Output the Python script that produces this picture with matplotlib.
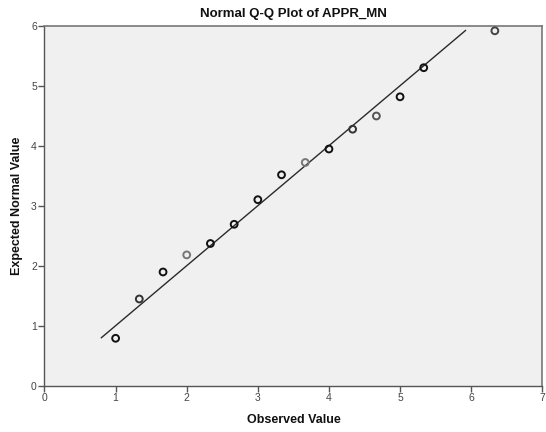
import matplotlib
matplotlib.use("Agg")
import matplotlib.pyplot as plt

plt.rcParams['font.family'] = ['Liberation Sans', 'DejaVu Sans']

# Observed values and their expected normal quantiles
observed = [1.0, 1.333, 1.667, 2.0, 2.333, 2.667, 3.0, 3.333, 3.667,
            4.0, 4.333, 4.667, 5.0, 5.333, 6.333]
expected = [0.79, 1.445, 1.895, 2.18, 2.37, 2.69, 3.1, 3.515, 3.72,
            3.945, 4.275, 4.495, 4.815, 5.3, 5.915]
point_edge = ['#111111', '#333333', '#111111', '#777777', '#111111',
              '#111111', '#111111', '#111111', '#777777', '#111111',
              '#333333', '#555555', '#111111', '#111111', '#444444']

# Reference line y = x
ref_line = [0.8, 5.92]

x_ticks = [0, 1, 2, 3, 4, 5, 6, 7]
y_ticks = [0, 1, 2, 3, 4, 5, 6]

fig = plt.figure(figsize=(5.46, 4.32), dpi=100)
ax = fig.add_axes([0.0815, 0.1072, 0.9117, 0.8333])
ax.set_facecolor('#f0f0f0')

ax.plot(ref_line, ref_line, color='#2a2a2a', linewidth=1.0, zorder=2)
ax.scatter(observed, expected, s=24, facecolors='none',
           edgecolors=point_edge, linewidths=1.4, zorder=3)

ax.set_xlim(0, 7)
ax.set_ylim(0, 6)
ax.set_xticks(x_ticks)
ax.set_yticks(y_ticks)
ax.tick_params(axis='both', direction='out', length=4, width=1,
               color='#555555', labelsize=7.5, labelcolor='#444444', pad=1.5)

for side in ['left', 'bottom']:
    ax.spines[side].set_color('#555555')
    ax.spines[side].set_linewidth(1.0)
for side in ['top', 'right']:
    ax.spines[side].set_color('#777777')
    ax.spines[side].set_linewidth(1.2)

ax.set_title('Normal Q-Q Plot of APPR_MN', fontsize=9.5, fontweight='bold',
             color='#111111', pad=6)
ax.set_xlabel('Observed Value', fontsize=9, fontweight='bold',
              color='#111111', labelpad=8)
ax.set_ylabel('Expected Normal Value', fontsize=9, fontweight='bold',
              color='#111111', labelpad=6)

fig.savefig('out.png', dpi=100, facecolor='white')
